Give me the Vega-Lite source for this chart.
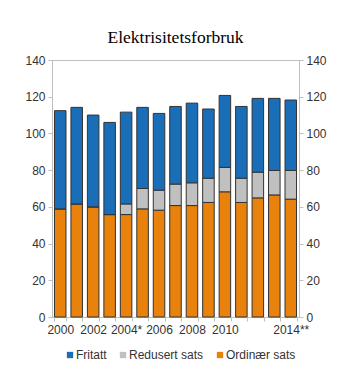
{
  "$schema": "https://vega.github.io/schema/vega-lite/v6.json",
  "width": 247,
  "height": 257,
  "autosize": {"type": "none"},
  "padding": {"left": 52, "top": 60, "right": 54, "bottom": 66},
  "background": "white",
  "title": {"text": "Elektrisitetsforbruk", "font": "Liberation Serif", "fontSize": 17.5, "fontWeight": "normal", "color": "#000", "anchor": "middle", "offset": 8},
  "config": {
    "view": {"stroke": "#bfbfbf", "strokeWidth": 1},
    "axis": {"labelFont": "Liberation Sans", "labelFontSize": 12, "labelColor": "#333", "domainColor": "#bfbfbf", "tickColor": "#bfbfbf", "grid": false, "title": null}
  },
  "data": {"values": [
    {"year": "2000", "series": "Ordinær sats", "value": 58.9},
    {"year": "2000", "series": "Redusert sats", "value": 0},
    {"year": "2000", "series": "Fritatt", "value": 53.5},
    {"year": "2001", "series": "Ordinær sats", "value": 61.6},
    {"year": "2001", "series": "Redusert sats", "value": 0},
    {"year": "2001", "series": "Fritatt", "value": 52.6},
    {"year": "2002", "series": "Ordinær sats", "value": 60.0},
    {"year": "2002", "series": "Redusert sats", "value": 0},
    {"year": "2002", "series": "Fritatt", "value": 50.0},
    {"year": "2003", "series": "Ordinær sats", "value": 55.8},
    {"year": "2003", "series": "Redusert sats", "value": 0},
    {"year": "2003", "series": "Fritatt", "value": 50.2},
    {"year": "2004*", "series": "Ordinær sats", "value": 55.8},
    {"year": "2004*", "series": "Redusert sats", "value": 5.8},
    {"year": "2004*", "series": "Fritatt", "value": 50.0},
    {"year": "2005", "series": "Ordinær sats", "value": 58.9},
    {"year": "2005", "series": "Redusert sats", "value": 11.1},
    {"year": "2005", "series": "Fritatt", "value": 44.2},
    {"year": "2006", "series": "Ordinær sats", "value": 58.2},
    {"year": "2006", "series": "Redusert sats", "value": 10.9},
    {"year": "2006", "series": "Fritatt", "value": 41.8},
    {"year": "2007", "series": "Ordinær sats", "value": 60.7},
    {"year": "2007", "series": "Redusert sats", "value": 11.7},
    {"year": "2007", "series": "Fritatt", "value": 42.3},
    {"year": "2008", "series": "Ordinær sats", "value": 60.7},
    {"year": "2008", "series": "Redusert sats", "value": 12.4},
    {"year": "2008", "series": "Fritatt", "value": 43.4},
    {"year": "2009", "series": "Ordinær sats", "value": 62.4},
    {"year": "2009", "series": "Redusert sats", "value": 13.2},
    {"year": "2009", "series": "Fritatt", "value": 37.7},
    {"year": "2010", "series": "Ordinær sats", "value": 68.2},
    {"year": "2010", "series": "Redusert sats", "value": 13.3},
    {"year": "2010", "series": "Fritatt", "value": 39.2},
    {"year": "2011", "series": "Ordinær sats", "value": 62.4},
    {"year": "2011", "series": "Redusert sats", "value": 13.2},
    {"year": "2011", "series": "Fritatt", "value": 39.1},
    {"year": "2012", "series": "Ordinær sats", "value": 64.9},
    {"year": "2012", "series": "Redusert sats", "value": 14.0},
    {"year": "2012", "series": "Fritatt", "value": 40.2},
    {"year": "2013", "series": "Ordinær sats", "value": 66.5},
    {"year": "2013", "series": "Redusert sats", "value": 13.3},
    {"year": "2013", "series": "Fritatt", "value": 39.3},
    {"year": "2014**", "series": "Ordinær sats", "value": 64.2},
    {"year": "2014**", "series": "Redusert sats", "value": 15.6},
    {"year": "2014**", "series": "Fritatt", "value": 38.4}
  ]},
  "transform": [
    {"calculate": "indexof(['Ordinær sats','Redusert sats','Fritatt'], datum.series)", "as": "stackorder"}
  ],
  "encoding": {
    "x": {"field": "year", "type": "ordinal", "sort": null,
      "scale": {"paddingInner": 0.3, "paddingOuter": 0.15},
      "axis": {"labelAngle": 0, "tickBand": "extent", "tickSize": 4, "labelPadding": 3,
        "labelExpr": "indexof(['2000','2002','2004*','2006','2008','2010','2014**'], datum.label) >= 0 ? datum.label : ''"}},
    "y": {"field": "value", "type": "quantitative", "aggregate": "sum", "stack": "zero",
      "scale": {"domain": [0, 140]}},
    "color": {"field": "series", "type": "nominal",
      "scale": {"domain": ["Fritatt", "Redusert sats", "Ordinær sats"], "range": ["#1a6eb7", "#c0c0c0", "#e8820c"]},
      "legend": {"title": null, "orient": "none", "direction": "horizontal", "legendX": 12, "legendY": 289,
        "symbolType": "square", "symbolSize": 40, "symbolStrokeWidth": 0, "labelOffset": 0, "labelFont": "Liberation Sans", "labelFontSize": 12, "labelColor": "#333", "columnPadding": 10}},
    "order": {"field": "stackorder", "type": "quantitative"}
  },
  "layer": [
    {"mark": {"type": "bar", "stroke": "#333", "strokeWidth": 1},
     "encoding": {"y": {"field": "value", "type": "quantitative", "aggregate": "sum", "stack": "zero", "scale": {"domain": [0, 140]},
        "axis": {"orient": "left", "values": [0,20,40,60,80,100,120,140], "tickSize": 4, "labelPadding": 3}}}},
    {"mark": {"type": "bar", "opacity": 0},
     "encoding": {"y": {"field": "value", "type": "quantitative", "aggregate": "sum", "stack": "zero", "scale": {"domain": [0, 140]},
        "axis": {"orient": "right", "values": [0,20,40,60,80,100,120,140], "tickSize": 4, "labelPadding": 3}}}}
  ],
  "resolve": {"axis": {"y": "independent"}}
}
